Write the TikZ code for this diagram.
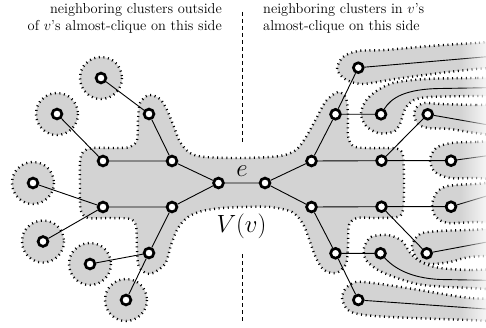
\documentclass[tikz,border=0pt]{standalone}
\usepackage{fontspec}
\usetikzlibrary{fadings}
\definecolor{clgray}{RGB}{211,211,211}
\tikzfading[name=fadeR, left color=transparent!100, right color=transparent!20]
\pgfdeclarelayer{bg}
\pgfdeclarelayer{fg}
\pgfsetlayers{bg,main,fg}
\begin{document}
\begin{tikzpicture}[x=1pt,y=-1pt,
  vtx/.style={circle,draw,fill=white,line width=2.7pt,minimum size=9.8pt,inner sep=0pt},
  edge/.style={line width=0.9pt},
  clus/.style={fill=clgray,draw=black,line width=2.4pt,dash pattern=on 1pt off 3.6pt},
  sepline/.style={line width=1.8pt,dash pattern=on 4pt off 3pt},
  txt/.style={inner sep=0pt,font=\fontsize{14.4}{17}\selectfont},
  big/.style={inner sep=0pt,font=\fontsize{24.88}{28}\selectfont,anchor=base}]
\useasboundingbox (0,0) rectangle (486,328);

% ---------- vertices
\node[vtx] (A1) at (101,78) {};
\node[vtx] (A2) at (57,114) {};
\node[vtx] (B1) at (149,114) {};
\node[vtx] (C1) at (103,161) {};
\node[vtx] (C2) at (172,161) {};
\node[vtx] (A3) at (33,183) {};
\node[vtx] (E) at (218.5,183) {};
\node[vtx] (F) at (265,183) {};
\node[vtx] (D1) at (103,207) {};
\node[vtx] (D2) at (172,207) {};
\node[vtx] (A4) at (43,241.5) {};
\node[vtx] (G) at (149,253) {};
\node[vtx] (A5) at (90,264) {};
\node[vtx] (A6) at (126,300) {};
\node[vtx] (H1) at (311.5,161) {};
\node[vtx] (H2) at (311.5,207) {};
\node[vtx] (R1) at (358.3,67.7) {};
\node[vtx] (R2) at (335.5,114.3) {};
\node[vtx] (R3) at (381,114.3) {};
\node[vtx] (R4) at (427.7,114.3) {};
\node[vtx] (R5) at (381.5,160.7) {};
\node[vtx] (R6) at (451,160.7) {};
\node[vtx] (R7) at (381.5,206.7) {};
\node[vtx] (R8) at (451,206.7) {};
\node[vtx] (R9) at (426.7,253.3) {};
\node[vtx] (R10) at (335.5,253.3) {};
\node[vtx] (R11) at (380.5,253.3) {};
\node[vtx] (R12) at (358.3,300) {};

\coordinate (T1) at (500,55.6);
\coordinate (T3) at (500,87.5);
\coordinate (T4) at (500,127);
\coordinate (T6) at (500,154);
\coordinate (T8) at (500,192);
\coordinate (T9) at (500,239.6);
\coordinate (T11) at (500,280.5);
\coordinate (T12) at (500,310);

% ---------- clusters
\begin{pgfonlayer}{bg}
\foreach \n in {A1,A2,A3,A4,A5,A6}
  \path[clus] (\n) circle[radius=21];
\path[clus] plot[smooth cycle,tension=0.5] coordinates {
 (80,185) (80,162) (83,152) (92,148) (115,148) (130,147) (137,140) (138,120)
 (140,103) (149,95) (160,99) (167,110) (174,127) (180,142) (190,153) (205,157)
 (243,158) (280,156) (296,150) (306,137) (316,119) (326,101) (338,92) (346,98)
 (348,115) (348,136) (353,146) (365,148) (385,148) (398,149) (403,156) (404,185)
 (403,210) (397,217) (375,218) (357,218) (349,225) (348,245) (346,264) (336,273)
 (324,270) (316,258) (309,239) (303,224) (292,212) (270,207) (243,207) (222,208)
 (202,211) (188,217) (178,228) (171,245) (165,264) (150,274) (139,267) (137,250)
 (136,226) (130,219) (110,218) (88,218) (81,211) (80,200)};
\begin{scope}
\clip (0,0) rectangle (486,328);
\path[clus] plot[smooth cycle,tension=0.5] coordinates {
 (520,41) (476,43) (430,46) (385,50) (358,51) (343,57) (337,69) (345,79)
 (362,84) (395,79) (440,73) (476,69) (520,64)};
\path[clus] plot[smooth cycle,tension=0.5] coordinates {
 (520,78) (476,78) (426,79) (393,83) (375,92) (365,102) (361,114) (366,126)
 (378,133) (393,132) (400,124) (405,109) (414,100) (430,97) (476,96) (520,96)};
\path[clus] plot[smooth cycle,tension=0.5] coordinates {
 (520,106) (476,105) (440,104) (425,103) (417,107) (414,115) (418,124)
 (428,128) (450,129) (476,133) (520,136)};
\path[clus] plot[smooth cycle,tension=0.5] coordinates {
 (520,142) (476,142) (452,143) (436,148) (430,160) (435,172) (450,178)
 (476,178) (520,178)};
\path[clus] plot[smooth cycle,tension=0.5] coordinates {
 (520,183) (476,184) (448,186) (437,192) (432,205) (436,217) (448,223)
 (476,222) (520,222)};
\path[clus] plot[smooth cycle,tension=0.5] coordinates {
 (520,229) (470,230) (440,231) (420,234) (412,246) (418,260) (430,264)
 (450,262) (470,257) (520,252)};
\path[clus] plot[smooth cycle,tension=0.5] coordinates {
 (520,270) (470,270) (440,268) (423,263) (411,254) (402,241) (388,235)
 (371,237) (364,248) (366,260) (378,270) (397,278) (423,285) (470,288) (520,289)};
\path[clus] plot[smooth cycle,tension=0.5] coordinates {
 (520,300) (470,298) (407,288) (373,283) (356,282) (346,288) (342,298)
 (347,309) (358,314) (390,317) (470,320) (520,321)};
\end{scope}
\end{pgfonlayer}

% ---------- edges
\draw[edge] (A1) -- (B1) (B1) -- (C2) (A2) -- (C1) (C1) -- (C2) (C2) -- (E)
  (A3) -- (D1) (D1) -- (D2) (D2) -- (E) (D1) -- (A4) (D2) -- (G)
  (G) -- (A5) (G) -- (A6) (E) -- (F) (F) -- (H1) (F) -- (H2)
  (H1) -- (R2) (R2) -- (R1) (R2) -- (R3) (H1) -- (R5) (R5) -- (R4) (R5) -- (R6)
  (H2) -- (R7) (R7) -- (R8) (R7) -- (R9) (H2) -- (R10) (R10) -- (R11) (R10) -- (R12)
  (R1) -- (T1) (R4) -- (T4) (R6) -- (T6) (R8) -- (T8) (R9) -- (T9) (R12) -- (T12);
\draw[edge] (R3) .. controls (391,98) and (405,89) .. (440,88.5) -- (T3);
\draw[edge] (R11) .. controls (394,268) and (410,278) .. (440,279.5) -- (T11);

% ---------- separator
\coordinate (S1) at (242.5,12);
\coordinate (S2) at (242.5,143);
\coordinate (S3) at (242.5,254);
\coordinate (S4) at (242.5,322);
\draw[sepline] (S1) -- (S2) (S3) -- (S4);

% ---------- labels
\node[txt,anchor=north east,align=right] (L1) at (222,3)
  {neighboring clusters outside\\of $v$'s almost-clique on this side};
\node[txt,anchor=north west,align=left] (L2) at (263,3)
  {neighboring clusters in $v$'s\\almost-clique on this side};
\node[big] (LE) at (242,177) {$e$};
\node[big] (LV) at (241.5,233) {$V(v)$};

% ---------- fade at the right border
\begin{pgfonlayer}{fg}
\fill[white,path fading=fadeR] (460,0) rectangle (486,328);
\end{pgfonlayer}
\end{tikzpicture}
\end{document}
